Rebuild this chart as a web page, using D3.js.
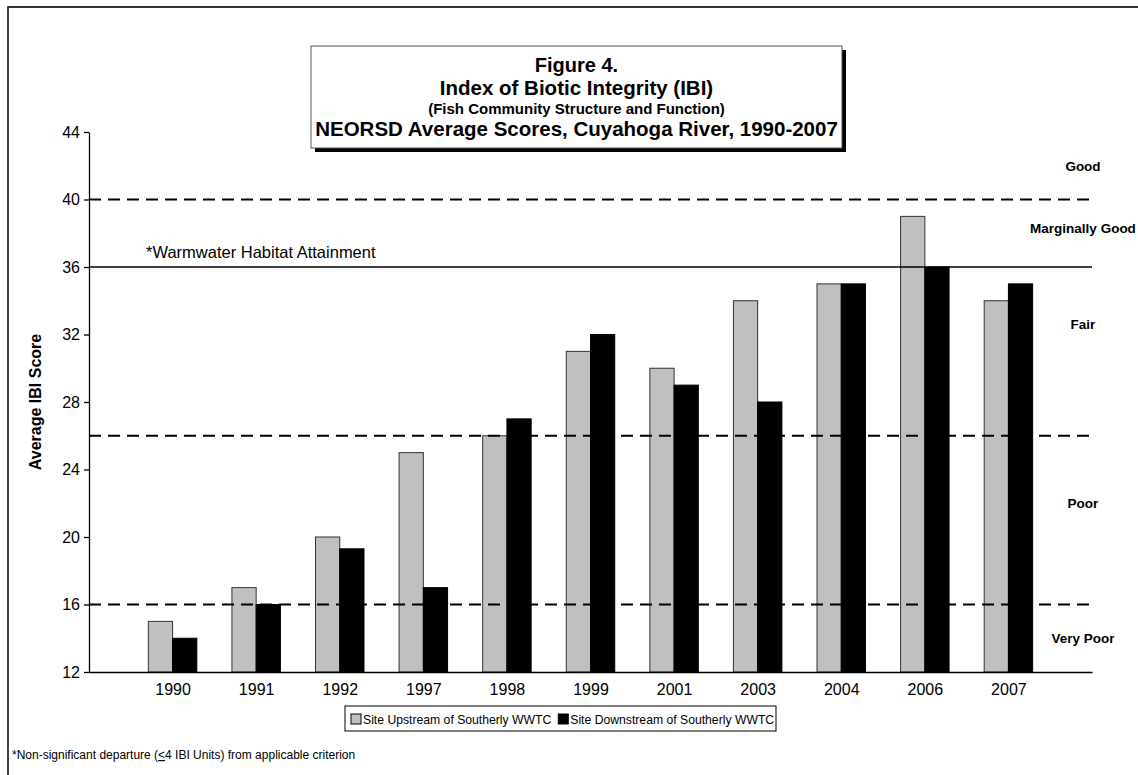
<!DOCTYPE html>
<html>
<head>
<meta charset="utf-8">
<script src="https://cdn.jsdelivr.net/npm/d3@7"></script>
<style>
  html, body { margin: 0; padding: 0; background: #fff; }
  svg { display: block; font-family: "Liberation Sans", Arial, sans-serif; }
</style>
</head>
<body>
<svg id="chart" width="1138" height="775"></svg>
<script>
// ---- data ----
const years = ["1990", "1991", "1992", "1997", "1998", "1999", "2001", "2003", "2004", "2006", "2007"];
const upstream = [15, 17, 20, 25, 26, 31, 30, 34, 35, 39, 34];
const downstream = [14, 16, 19.3, 17, 27, 32, 29, 28, 35, 36, 35];
const seriesNames = ["Site Upstream of Southerly WWTC", "Site Downstream of Southerly WWTC"];
const yTicks = [12, 16, 20, 24, 28, 32, 36, 40, 44];
const criteriaDashed = [40, 26, 16];
const attainment = 36;
const bandLabels = [
  { label: "Good", value: 42 },
  { label: "Marginally Good", value: 38.3 },
  { label: "Fair", value: 32.6 },
  { label: "Poor", value: 22 },
  { label: "Very Poor", value: 14 }
];
const titleLines = [
  "Figure 4.",
  "Index of Biotic Integrity (IBI)",
  "(Fish Community Structure and Function)",
  "NEORSD Average Scores, Cuyahoga River, 1990-2007"
];

// ---- layout ----
const svg = d3.select("#chart");
const FF = "Liberation Sans, Arial, sans-serif";
const X0 = 89, X1 = 1092, YT = 132, YB = 672;

const y = d3.scaleLinear().domain([12, 44]).range([YB, YT]);
const x = d3.scalePoint().domain(years).range([X0, X1]).padding(1);
const bw = x.step() * 0.29;

// outer border
svg.append("rect").attr("x", 8).attr("y", 7).attr("width", 1150).attr("height", 800)
  .attr("fill", "none").attr("stroke", "#000").attr("stroke-width", 1.5);
svg.append("line").attr("x1", 8).attr("x2", 1138).attr("y1", 7).attr("y2", 7)
  .attr("stroke", "#333").attr("stroke-width", 2);

// bars
const g = svg.append("g");
g.selectAll("rect.up").data(years).join("rect").attr("class", "up")
  .attr("x", d => x(d) - bw).attr("width", bw)
  .attr("y", (d, i) => y(upstream[i])).attr("height", (d, i) => YB - y(upstream[i]))
  .attr("fill", "#c0c0c0").attr("stroke", "#333").attr("stroke-width", 1);
g.selectAll("rect.down").data(years).join("rect").attr("class", "down")
  .attr("x", d => x(d)).attr("width", bw)
  .attr("y", (d, i) => y(downstream[i])).attr("height", (d, i) => YB - y(downstream[i]))
  .attr("fill", "#000").attr("stroke", "#000").attr("stroke-width", 1);

// criteria lines
svg.selectAll("line.crit").data(criteriaDashed).join("line").attr("class", "crit")
  .attr("x1", X0).attr("x2", X1).attr("y1", d => y(d)).attr("y2", d => y(d))
  .attr("stroke", "#000").attr("stroke-width", 2).attr("stroke-dasharray", "12,7");
svg.append("line").attr("x1", X0).attr("x2", X1).attr("y1", y(attainment)).attr("y2", y(attainment))
  .attr("stroke", "#000").attr("stroke-width", 1.3);
svg.append("text").attr("x", 146).attr("y", y(attainment) - 9).attr("font-size", 16.5)
  .text("*Warmwater Habitat Attainment");

// y axis
const yAxis = d3.axisLeft(y).tickValues(yTicks).tickSize(5).tickPadding(4).tickSizeOuter(0);
const ya = svg.append("g").attr("transform", `translate(${X0},0)`).call(yAxis);
ya.select(".domain").attr("stroke", "#000").attr("stroke-width", 1.3);
ya.selectAll(".tick line").attr("stroke", "#000").attr("stroke-width", 1.3);
ya.selectAll(".tick text").attr("font-size", 16).attr("font-family", FF).attr("fill", "#000");

// x axis
const xAxis = d3.axisBottom(x).tickSize(0).tickPadding(12);
const xa = svg.append("g").attr("transform", `translate(0,${YB})`).call(xAxis);
xa.select(".domain").attr("stroke", "#000").attr("stroke-width", 1.5);
xa.selectAll(".tick text").attr("font-size", 16).attr("font-family", FF).attr("fill", "#000");

// y title
svg.append("text").attr("transform", `translate(41,${(YT + YB) / 2}) rotate(-90)`)
  .attr("text-anchor", "middle").attr("font-size", 16).attr("font-weight", "bold")
  .text("Average IBI Score");

// right band labels
svg.selectAll("text.band").data(bandLabels).join("text").attr("class", "band")
  .attr("x", 1083).attr("y", d => y(d.value) + 5).attr("text-anchor", "middle")
  .attr("font-size", 13.5).attr("font-weight", "bold").text(d => d.label);

// title box
const tb = { x: 311, y: 46, w: 531, h: 102 };
svg.append("rect").attr("x", tb.x + 4).attr("y", tb.y + 4).attr("width", tb.w).attr("height", tb.h).attr("fill", "#000");
svg.append("rect").attr("x", tb.x).attr("y", tb.y).attr("width", tb.w).attr("height", tb.h)
  .attr("fill", "#fff").attr("stroke", "#555").attr("stroke-width", 1);
const tcx = tb.x + tb.w / 2;
const tSizes = [20, 20.5, 15, 20.5];
const tY = [72, 95, 114, 136];
titleLines.forEach((t, i) => {
  svg.append("text").attr("x", tcx).attr("y", tY[i]).attr("text-anchor", "middle")
    .attr("font-size", tSizes[i]).attr("font-weight", "bold").text(t);
});

// legend
const lg = { x: 345, y: 706, w: 431, h: 25 };
svg.append("rect").attr("x", lg.x).attr("y", lg.y).attr("width", lg.w).attr("height", lg.h)
  .attr("fill", "#fff").attr("stroke", "#000").attr("stroke-width", 1);
const legFills = ["#c0c0c0", "#000"];
let lx = lg.x + 6;
seriesNames.forEach((name, i) => {
  svg.append("rect").attr("x", lx).attr("y", lg.y + 8).attr("width", 10).attr("height", 10)
    .attr("fill", legFills[i]).attr("stroke", "#000").attr("stroke-width", 1);
  const t = svg.append("text").attr("x", lx + 12).attr("y", lg.y + 18).attr("font-size", 12.2).text(name);
  lx = lx + 12 + t.node().getComputedTextLength() + 7;
});

// footnote
const fn = svg.append("text").attr("x", 12).attr("y", 759).attr("font-size", 12);
fn.append("tspan").text("*Non-significant departure (");
fn.append("tspan").attr("text-decoration", "underline").text("<");
fn.append("tspan").text("4 IBI Units) from applicable criterion");
</script>
</body>
</html>
